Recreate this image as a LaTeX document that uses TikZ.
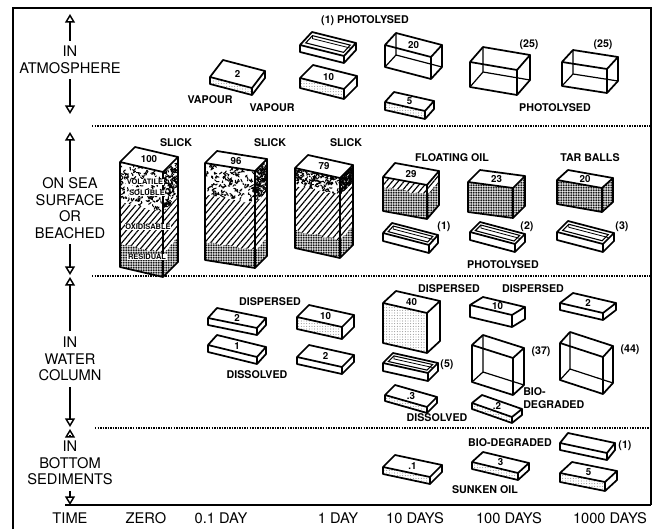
\documentclass[tikz,border=0pt]{standalone}
\usepackage{fontspec}
\setmainfont{TeX Gyre Heros}
\usetikzlibrary{arrows.meta, calc, patterns.meta, decorations.pathmorphing, positioning}

\tikzset{
  edge/.style={line width=1.3pt, line join=round},
  hidden/.style={line width=0.9pt},
  zone/.style={align=center, font=\fontsize{11}{12.5}\selectfont, inner sep=4pt},
  tag/.style={font=\bfseries\fontsize{8}{9.2}\selectfont, align=left, inner sep=0pt},
  num/.style={font=\bfseries\fontsize{7.3}{8}\selectfont, inner sep=0pt},
  inlay/.style={font=\bfseries\fontsize{5.6}{6}\selectfont, fill=white, inner sep=0.5pt},
  stipple/.style={pattern={Dots[distance=2pt, radius=0.35pt]}, pattern color=black!60},
  grit/.style={pattern={Dots[distance=1.25pt, radius=0.52pt]}},
  hatch/.style={pattern={Lines[angle=50, distance=3.4pt, line width=0.85pt]}},
  wavy/.style={decoration={random steps, segment length=2.5pt, amplitude=1pt}},
  divider/.style={line width=1.6pt, dash pattern=on 1.1pt off 0.8pt},
  frame/.style={line width=1.1pt},
  zonearrow/.style={line width=1pt, -{Triangle[open, length=6.5pt, width=7.5pt, line width=1.1pt]}},
}

% corners of a box: front top left, long edge, depth edge, height
\newcommand{\boxpoints}[5]{%
  \coordinate (#1-a) at (#2);
  \coordinate (#1-b) at ($(#1-a)+(#3)$);
  \coordinate (#1-ab) at ($(#1-a)+(#4)$);
  \coordinate (#1-bb) at ($(#1-b)+(#4)$);
  \coordinate (#1-d) at ($(#1-a)+(0,#5)$);
  \coordinate (#1-c) at ($(#1-b)+(0,#5)$);
  \coordinate (#1-cb) at ($(#1-bb)+(0,#5)$);
  \coordinate (#1-db) at ($(#1-ab)+(0,#5)$);
}
\newcommand{\boxoutline}[2]{%
  \fill[white] (#1-a) -- (#1-b) -- (#1-bb) -- (#1-ab) -- cycle;
  \draw[edge] (#1-a) -- (#1-b) -- (#1-bb) -- (#1-ab) -- cycle
              (#1-b) -- (#1-c) -- (#1-d) -- (#1-a)
              (#1-bb) -- (#1-cb) -- (#1-c);
  \node[num] (#1-n) at ($(#1-a)!0.5!(#1-bb)$) {#2};
}
\newcommand{\solidbox}[7][fill=white]{%
  \boxpoints{#2}{#3}{#4}{#5}{#6}
  \fill[white] (#2-a) -- (#2-b) -- (#2-bb) -- (#2-cb) -- (#2-c) -- (#2-d) -- cycle;
  \path[#1] (#2-a) -- (#2-b) -- (#2-c) -- (#2-d) -- cycle;
  \boxoutline{#2}{#7}
}
\newcommand{\gritbox}[6]{%
  \boxpoints{#1}{#2}{#3}{#4}{#5}
  \fill[white] (#1-a) -- (#1-b) -- (#1-bb) -- (#1-cb) -- (#1-c) -- (#1-d) -- cycle;
  \path[grit] (#1-a) -- (#1-b) -- (#1-bb) -- (#1-cb) -- (#1-c) -- (#1-d) -- cycle;
  \boxoutline{#1}{#6}
}
\newcommand{\wirebox}[5]{%
  \boxpoints{#1}{#2}{#3}{#4}{#5}
  \draw[hidden] (#1-ab) -- (#1-db) -- (#1-d) (#1-db) -- (#1-cb);
  \draw[edge] (#1-a) -- (#1-b) -- (#1-bb) -- (#1-ab) -- cycle
              (#1-a) -- (#1-d) -- (#1-c) -- (#1-cb) -- (#1-bb)
              (#1-b) -- (#1-c);
}
\newcommand{\traybox}[5]{%
  \solidbox{#1}{#2}{#3}{#4}{#5}{}
  \coordinate (#1-p) at ($(#1-a)+0.07*(#3)+0.22*(#4)$);
  \coordinate (#1-q) at ($(#1-b)-0.07*(#3)+0.22*(#4)$);
  \coordinate (#1-r) at ($(#1-b)-0.07*(#3)+0.78*(#4)$);
  \coordinate (#1-s) at ($(#1-a)+0.07*(#3)+0.78*(#4)$);
  \draw[line width=0.8pt] (#1-p) -- (#1-q) -- (#1-r) -- (#1-s) -- cycle;
  \draw[line width=0.6pt] (#1-s) -- ++(0,3) -- ($(#1-r)+(0,3)$);
}
% layers of a face: dots below, hatching above depth #4
\newcommand{\facelayers}[4]{%
  \fill[white] (#1) -- (#2) -- ($(#2)+(0,#3)$) -- ($(#1)+(0,#3)$) -- cycle;
  \path[grit] (#1) -- (#2) -- ($(#2)+(0,#3)$) -- ($(#1)+(0,#3)$) -- cycle;
  \path[fill=white, postaction={hatch}] (#1) -- (#2) -- ($(#2)+(0,#4)$)
    decorate[wavy]{-- ($(#1)+(0,#4)$)} -- cycle;
}
\newcommand{\volatile}[3]{%
  \fill[white] (#1) -- (#2) -- ($(#2)+(0,#3)$) decorate[wavy]{-- ($(#1)+(0,#3)$)} -- cycle;
  \begin{scope}
    \clip (#1) -- (#2) -- ($(#2)+(0,#3)$) -- ($(#1)+(0,#3)$) -- cycle;
    \foreach \k in {1,...,110}
      \draw[line width=0.75pt, line cap=round, line join=round] ($(#1)!{rnd}!(#2)+(0,{rnd*#3})$) -- ++({rnd*5-2.5},{rnd*5-2.5}) -- ++({rnd*5-2.5},{rnd*5-2.5});
  \end{scope}
}
\newcommand{\slickbox}[8]{%
  \boxpoints{#1}{#2}{#3}{#4}{#5}
  \facelayers{#1-a}{#1-b}{#5}{#8}
  \facelayers{#1-b}{#1-bb}{#5}{#8}
  \volatile{#1-a}{#1-b}{#7}
  \volatile{#1-b}{#1-bb}{#7}
  \boxoutline{#1}{#6}
}

\begin{document}
\begin{tikzpicture}[x=0.75pt, y=-0.75pt]
\useasboundingbox (0,0) rectangle (654,529);
\pgfmathsetseed{42}
% frame and time axis
\draw[frame] (13,529) -- (13,8) -- (651,8) -- (651,505);
\draw[frame] (65,505) -- (651,505);
\draw[divider] (92,126) -- (651,126);
\draw[divider] (92,276) -- (651,276);
\draw[divider] (95,428) -- (651,428);

% zones
\node[zone] (atm) at (70,60) {IN\\ATMOSPHERE};
\node[zone] (sea) at (70,208) {ON SEA\\SURFACE\\OR\\BEACHED};
\node[zone] (wat) at (70,359) {IN\\WATER\\COLUMN};
\node[zone] (bot) at (70,463) {IN\\BOTTOM\\SEDIMENTS};
\coordinate (atm-up) at (70,14);
\coordinate (atm-dn) at (70,114);
\coordinate (sea-up) at (70,132);
\coordinate (sea-dn) at (70,275);
\coordinate (wat-up) at (70,277);
\coordinate (wat-dn) at (70,427);
\coordinate (bot-up) at (70,429);
\coordinate (bot-dn) at (70,505);
\foreach \z in {atm,sea,wat,bot} {
  \draw[zonearrow] (\z.north) -- (\z-up);
  \draw[zonearrow] (\z.south) -- (\z-dn);
}

% time labels
\node[zone] (time) at (70,518) {TIME};
\node[zone] (t0) at (146,518) {ZERO};
\node[zone] (t01) at (221,518) {0.1 DAY};
\node[zone] (t1) at (338,518) {1 DAY};
\node[zone] (t10) at (415,518) {10 DAYS};
\node[zone] (t100) at (509,518) {100 DAYS};
\node[zone] (t1000) at (610,518) {1000 DAYS};

% in atmosphere
\solidbox[stipple]{a01}{210,77}{42,11}{13,-17}{7}{2}
\traybox{a1t}{300,45}{44,11}{12,-13}{7}
\solidbox[stipple]{a1v}{300,78}{44,11}{13,-13}{10}{10}
\wirebox{a10w}{385,45}{46,12}{11,-12}{22}
\node[num] (a10w-n) at ($(a10w-a)!0.5!(a10w-bb)$) {20};
\solidbox[stipple]{a10s}{385,102}{40,9}{9,-10}{8}{5}
\wirebox{a100w}{470,62}{47,8}{13,-15}{25}
\wirebox{a1000w}{562,62}{45,7}{11,-12}{24}
\node[tag] (vap01) at (210,100) {VAPOUR};
\node[tag] (vap1) at (272,108) {VAPOUR};
\node[tag] (pho1) at (365,21) {(1) PHOTOLYSED};
\node[tag] (p100) at (529,45) {(25)};
\node[tag] (p1000) at (603,45) {(25)};
\node[tag] (phoA) at (555,108) {PHOTOLYSED};

% on sea surface
\slickbox{s0}{120,162}{43,10}{15,-15}{105}{100}{40}{81}
\slickbox{s01}{205,163}{50,8}{12,-12}{97}{96}{32}{79}
\slickbox{s1}{295,168}{45,10}{13,-13}{80}{79}{17}{62}
\boxpoints{s10}{383,177}{44,8}{12,-14}{34}
\facelayers{s10-a}{s10-b}{34}{10}
\facelayers{s10-b}{s10-bb}{34}{10}
\boxoutline{s10}{29}
\gritbox{s100}{468,182}{45,6}{12,-12}{30}{23}
\gritbox{s1000}{557,180}{45,8}{11,-10}{24}{20}
\traybox{s10t}{383,233}{46,12}{9,-10}{8}
\traybox{s100t}{470,232}{45,12}{10,-10}{8}
\traybox{s1000t}{557,232}{46,12}{11,-11}{8}
\node[inlay] (vol) at (145,182) {VOLATILE};
\node[inlay] (sol) at (147,193) {SOLUBLE};
\node[inlay] (oxi) at (148,227) {OXIDISABLE};
\node[inlay] (res) at (147,257) {RESIDUAL};
\node[tag] (sl0) at (176,143) {SLICK};
\node[tag] (sl01) at (270,143) {SLICK};
\node[tag] (sl1) at (346,143) {SLICK};
\node[tag] (flo) at (452,158) {FLOATING OIL};
\node[tag] (tar) at (590,158) {TAR BALLS};
\node[tag] (ps10) at (444,227) {(1)};
\node[tag] (ps100) at (527,227) {(2)};
\node[tag] (ps1000) at (622,227) {(3)};
\node[tag] (phoS) at (503,265) {PHOTOLYSED};

% in water column
\solidbox{w01d}{208,318}{49,10}{9,-10}{7}{2}
\solidbox{w01s}{208,345}{49,12}{9,-10}{7}{1}
\solidbox[stipple]{w1d}{297,317}{45,10}{12,-12}{12}{10}
\solidbox{w1s}{297,357}{45,10}{12,-12}{7}{2}
\solidbox[stipple]{w10d}{383,303}{44,10}{13,-12}{40}{40}
\traybox{w10t}{383,363}{45,10}{10,-10}{8}
\solidbox[stipple]{w10s}{385,395}{42,12}{10,-10}{6}{.3}
\solidbox{w100d}{470,305}{42,10}{13,-8}{12}{10}
\wirebox{w100w}{472,345}{41,13}{11,-10}{37}
\solidbox[stipple]{w100s}{472,403}{40,14}{10,-8}{6}{.2}
\solidbox{w1000d}{560,303}{43,10}{13,-10}{7}{2}
\wirebox{w1000w}{560,343}{43,14}{10,-11}{37}
\node[tag] (dis01) at (270,302) {DISPERSED};
\node[tag] (sol01) at (257,375) {DISSOLVED};
\node[tag] (dis10) at (449,289) {DISPERSED};
\node[tag] (t5) at (447,365) {(5)};
\node[tag] (sol10) at (437,418) {DISSOLVED};
\node[tag] (dis100) at (533,289) {DISPERSED};
\node[tag] (b37) at (541,352) {(37)};
\node[tag, anchor=west] (bio100) at (523,398) {BIO-\\DEGRADED};
\node[tag] (b44) at (630,350) {(44)};

% in bottom sediments
\solidbox[stipple]{b10}{383,467}{47,10}{12,-12}{7}{.1}
\solidbox[stipple]{b100}{472,462}{46,11}{11,-10}{7}{3}
\solidbox{b1000a}{560,443}{47,10}{8,-10}{7}{}
\solidbox[stipple]{b1000b}{560,473}{45,9}{12,-11}{9}{5}
\node[tag] (bio1000) at (510,443) {BIO-DEGRADED};
\node[tag] (bd1) at (625,446) {(1)};
\node[tag] (sunk) at (485,490) {SUNKEN OIL};
\end{tikzpicture}
\end{document}
